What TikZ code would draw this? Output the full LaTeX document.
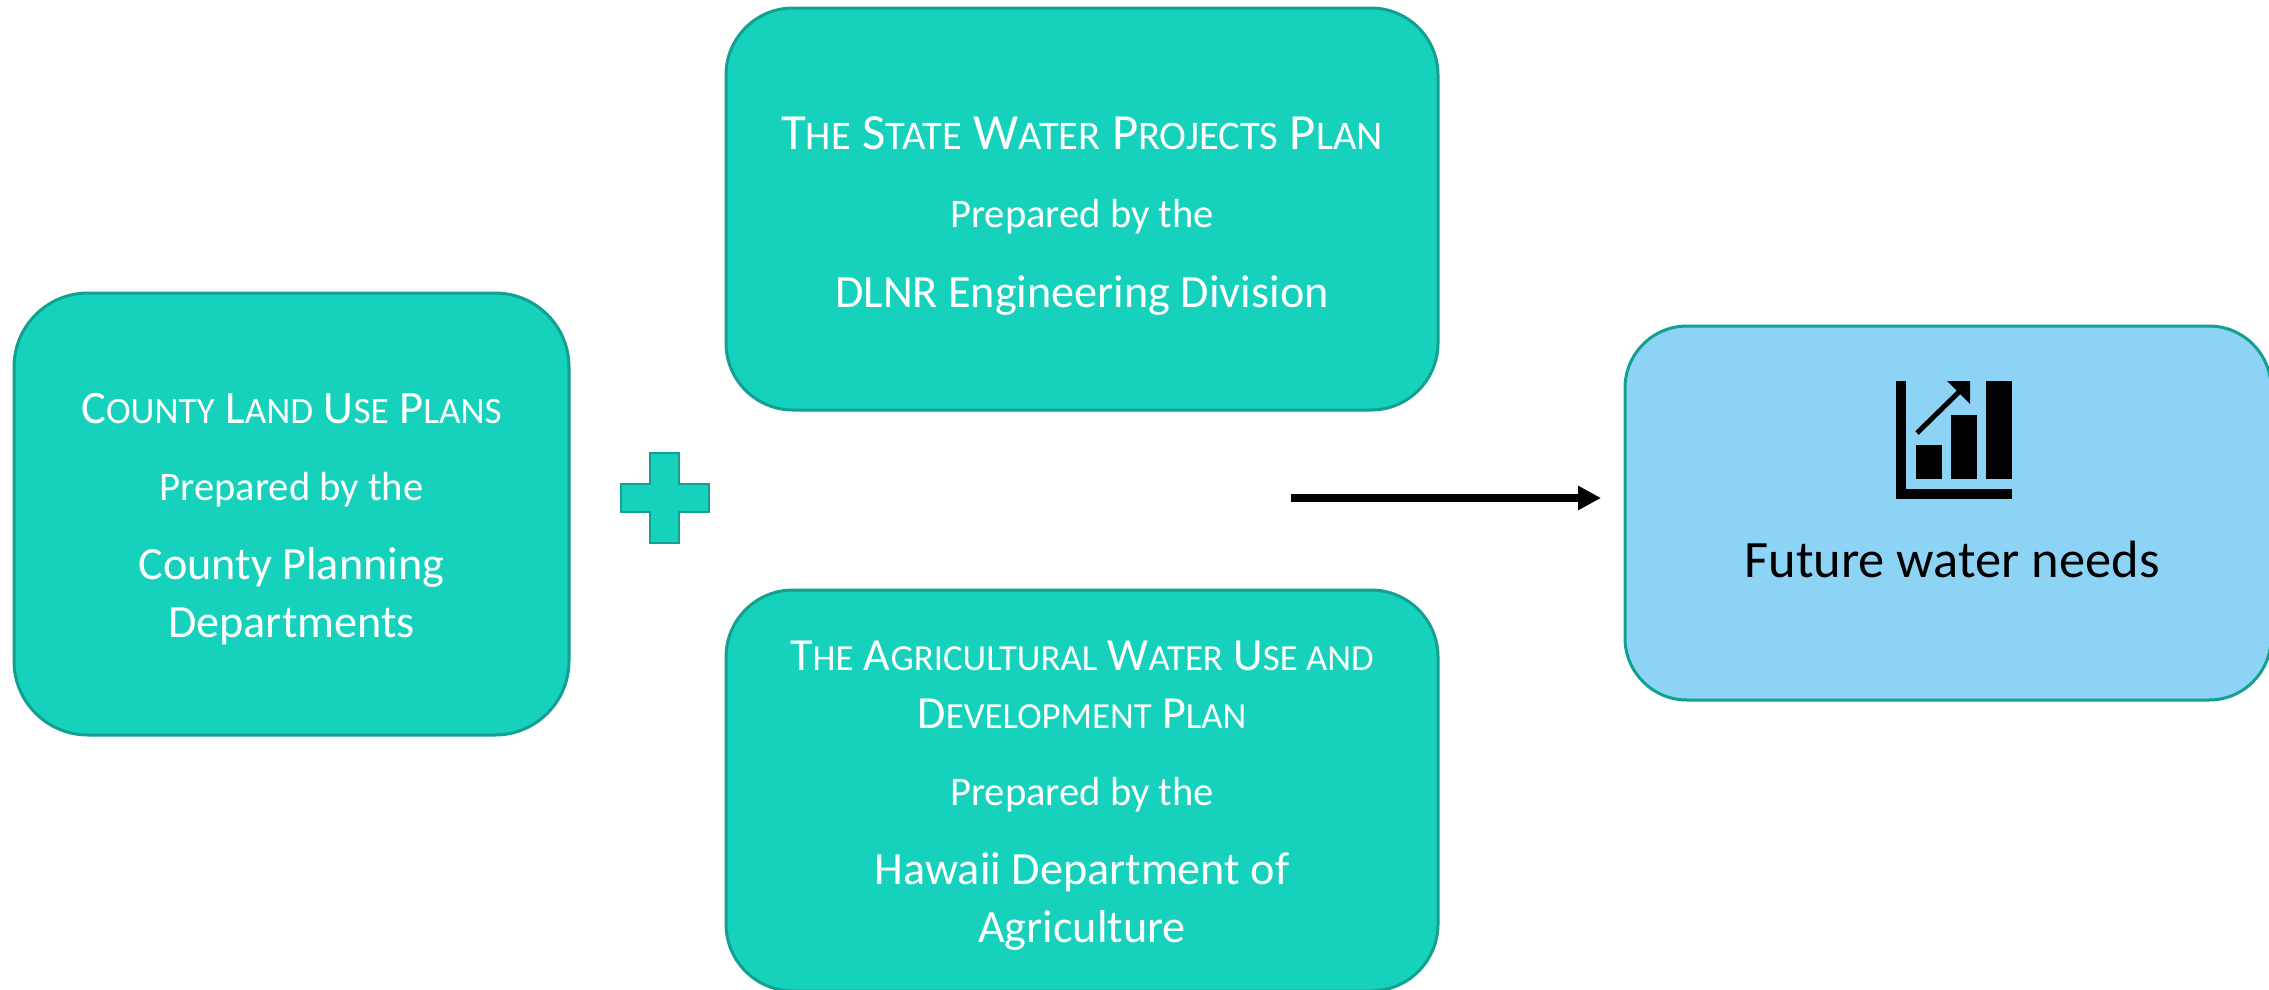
\documentclass[tikz,border=0pt]{standalone}
\usepackage{fontspec}
\setmainfont{Carlito}
\usetikzlibrary{arrows.meta}
\definecolor{teal1}{HTML}{16D1BC}
\definecolor{tealb}{HTML}{12A090}
\definecolor{sky}{HTML}{8DD3F6}
\makeatletter
\newcommand\smc[1]{{\fontsize{\fpeval{0.8*\f@size}}{\fpeval{0.8*\f@size}}\selectfont #1}}
\makeatother
\begin{document}
\begin{tikzpicture}[x=1pt,y=-1pt,
  box/.style={draw=tealb, line width=3pt, fill=teal1, inner sep=0pt},
  wt/.style={text=white, inner sep=0pt, anchor=base},
  fs/.style={font=\fontsize{#1}{#1}\selectfont}]
\useasboundingbox (0,0) rectangle (2269,989);
\fill[white] (0,0) rectangle (2269,989);

\node[box, minimum width=555pt, minimum height=442pt, rounded corners=74pt] (county) at (291.5,514) {};
\node[box, minimum width=712pt, minimum height=402pt, rounded corners=67pt] (state) at (1082,209) {};
\node[box, minimum width=712pt, minimum height=401pt, rounded corners=67pt] (agri) at (1082,790.5) {};
\node[box, fill=sky, minimum width=646pt, minimum height=374pt, rounded corners=62pt] (future) at (1948,513) {};

\node[wt, fs=46.5] (countyA) at (291.5,423) {C\smc{OUNTY} L\smc{AND} U\smc{SE} P\smc{LANS}};
\node[wt, fs=40.6] (countyB) at (291.5,500) {Prepared by the};
\node[wt, fs=46.2] (countyC) at (291.5,579) {County Planning};
\node[wt, fs=46.2] (countyD) at (291.5,637) {Departments};

\node[wt, fs=50.7] (stateA) at (1082,149) {T\smc{HE} S\smc{TATE} W\smc{ATER} P\smc{ROJECTS} P\smc{LAN}};
\node[wt, fs=40.6] (stateB) at (1082,227) {Prepared by the};
\node[wt, fs=46.2] (stateC) at (1082,307) {DLNR Engineering Division};

\node[wt, fs=46] (agriA) at (1082,670) {T\smc{HE} A\smc{GRICULTURAL} W\smc{ATER} U\smc{SE AND}};
\node[wt, fs=46] (agriB) at (1082,728) {D\smc{EVELOPMENT} P\smc{LAN}};
\node[wt, fs=40.6] (agriC) at (1082,805) {Prepared by the};
\node[wt, fs=46.2] (agriD) at (1082,884) {Hawaii Department of};
\node[wt, fs=46.2] (agriE) at (1082,942) {Agriculture};

\node[inner sep=0pt, anchor=base, fs=52.5] (futureT) at (1952,577) {Future water needs};

% plus sign
\path[fill=teal1, draw=tealb, line width=1.5pt] (650,453) -- (679,453) -- (679,484) -- (709,484) -- (709,512) -- (679,512) -- (679,543) -- (650,543) -- (650,512) -- (621,512) -- (621,484) -- (650,484) -- cycle;

% arrow
\coordinate (arS) at (1291,498);
\coordinate (arE) at (1601,498);
\draw[line width=8pt, -{Triangle[length=23pt,width=23pt]}] (arS) -- (arE);

% chart icon
\fill (1896,381) rectangle (1906,499);
\fill (1896,489) rectangle (2012,499);
\fill (1916,445) rectangle (1942,479);
\fill (1951,415) rectangle (1977,479);
\fill (1986,381) rectangle (2012,479);
\draw[line width=5pt] (1917,433) -- (1962,389);
\fill (1947,381) -- (1970,381) -- (1970,404) -- cycle;
\end{tikzpicture}
\end{document}
